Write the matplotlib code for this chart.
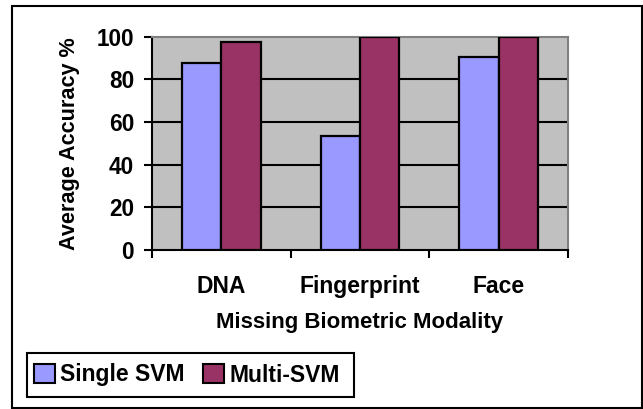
import matplotlib
matplotlib.use("Agg")
import matplotlib.pyplot as plt
import matplotlib.patches as mpatches
import numpy as np

# data
modalities = ["DNA", "Fingerprint", "Face"]
single_svm = [87.5, 53.5, 90.5]
multi_svm = [97.5, 100, 100]
series_names = ["Single SVM", "Multi-SVM"]
yticks = [0, 20, 40, 60, 80, 100]

plt.rcParams['font.family'] = ['Liberation Sans', 'DejaVu Sans']
plt.rcParams['font.weight'] = 'bold'

W, H = 643, 409
fig = plt.figure(figsize=(W / 100, H / 100), dpi=100)

# outer chart frame
fig.patches.append(mpatches.Rectangle((12.3 / W, 1 - 407.5 / H), (641.5 - 12.3) / W, (407.5 - 5.8) / H,
                                      transform=fig.transFigure, fill=False, edgecolor='black', lw=1.5))

ax = fig.add_axes([152 / W, 1 - 250 / H, (568 - 152) / W, (250 - 36.5) / H])
ax.set_facecolor('#C0C0C0')

x = np.arange(len(modalities))
bw = 0.284
ax.bar(x - bw / 2, single_svm, bw, color='#9999FF', edgecolor='black', linewidth=1.6, zorder=3, label=series_names[0])
ax.bar(x + bw / 2, multi_svm, bw, color='#993366', edgecolor='black', linewidth=1.6, zorder=3, label=series_names[1])

ax.set_xlim(-0.5, 2.5)
ax.set_ylim(0, 100)
ax.set_yticks(yticks)
ax.set_yticklabels([str(v) for v in yticks], fontsize=16.3, fontweight='bold')
for v in yticks[1:-1]:
    ax.axhline(v, color='black', lw=1.5, zorder=1)

ax.set_xticks(x)
ax.set_xticklabels(modalities, fontsize=16.5, fontweight='bold')
ax.set_xticks([-0.5, 0.5, 1.5, 2.5], minor=True)
ax.tick_params(axis='x', which='major', length=0, pad=18)
ax.tick_params(axis='x', which='minor', length=6, width=1.5, direction='out')
ax.tick_params(axis='y', length=6, width=1.5, direction='out', pad=7)

for s in ['left', 'bottom']:
    ax.spines[s].set_color('black')
    ax.spines[s].set_linewidth(1.5)
for s in ['top', 'right']:
    ax.spines[s].set_color('#808080')
    ax.spines[s].set_linewidth(1.5)

ax.set_xlabel("Missing Biometric Modality", fontsize=16, fontweight='bold')
ax.xaxis.set_label_coords(0.5, -0.29)
ax.set_ylabel("Average Accuracy %", fontsize=15.6, fontweight='bold')
ax.yaxis.set_label_coords(-0.172, 0.5)

# legend box
fig.patches.append(mpatches.Rectangle((26.7 / W, 1 - 396.5 / H), (354 - 26.7) / W, (396.5 - 353) / H,
                                      transform=fig.transFigure, fill=False, edgecolor='black', lw=1.5))
leg = fig.legend(loc='center left', bbox_to_anchor=(34 / W, 1 - 375 / H), ncol=2, frameon=False,
                 prop={'size': 16.5, 'weight': 'bold'}, handlelength=0.9, handleheight=0.9,
                 handletextpad=0.25, columnspacing=0.8, borderpad=0, borderaxespad=0)
for h in leg.legend_handles:
    h.set_linewidth(1.5)

fig.savefig("out.png", dpi=100)
